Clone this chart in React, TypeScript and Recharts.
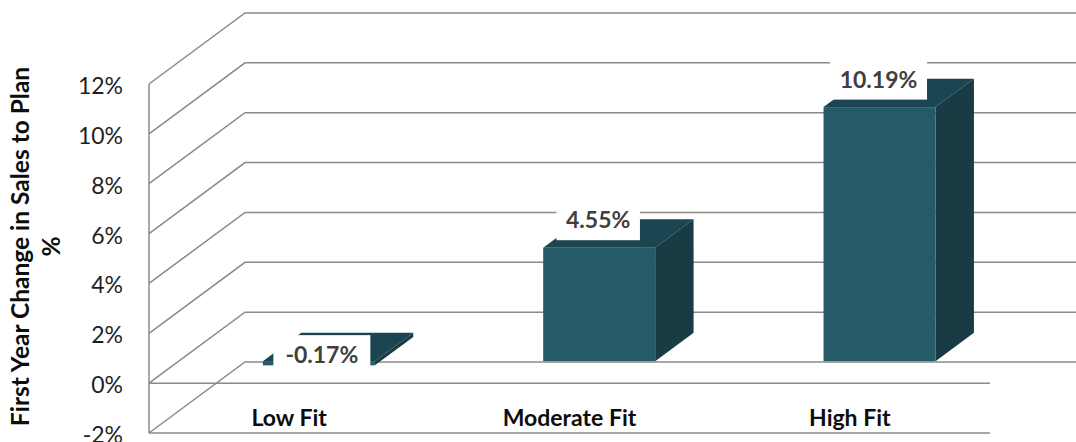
import React from 'react';
import { BarChart, Bar, XAxis, YAxis, CartesianGrid, ReferenceLine, LabelList } from 'recharts';

// ---- data ----
const categories = ['Low Fit', 'Moderate Fit', 'High Fit'];
const values = [-0.17, 4.55, 10.19];
const yTicks = [-2, 0, 2, 4, 6, 8, 10, 12];
const yTitleLines = ['First Year Change in Sales to Plan', '%'];

const data = categories.map((name, i) => ({ name, value: values[i] }));

// ---- styling ----
const W = 1076;
const H = 442;
const X_AXIS_H = 30;
const MARGIN = { top: 84, right: 86, bottom: 9 - X_AXIS_H, left: 0 };
const DEPTH_DX = 96;
const DEPTH_DY = -71;
const FRONT_F = 0.31;
const BACK_F = 0.71;
const GRID = '#8a8a8a';
const FRONT = '#255b69';
const TOP = '#1c4552';
const SIDE = '#183b44';
const FONT = 'Lato, "Open Sans", sans-serif';

const gridLine = (props: any) => {
  const { x1, y1, x2 } = props;
  const by = y1 + DEPTH_DY;
  return (
    <path
      key={`grid-${y1}`}
      d={`M${x1},${y1}L${x1 + DEPTH_DX},${by}L${x2 + DEPTH_DX},${by}`}
      fill="none"
      stroke={GRID}
      strokeWidth={1.5}
    />
  );
};

const Bar3D = (props: any) => {
  const { x, y, width, height } = props;
  if (x == null || y == null) return null;
  const top = Math.min(y, y + height);
  const bottom = Math.max(y, y + height);
  const fx = FRONT_F * DEPTH_DX;
  const fy = FRONT_F * DEPTH_DY;
  const dx = (BACK_F - FRONT_F) * DEPTH_DX;
  const dy = (BACK_F - FRONT_F) * DEPTH_DY;
  const x0 = x + fx;
  const x1 = x + width + fx;
  const t = top + fy;
  const b = bottom + fy;
  return (
    <g>
      <polygon points={`${x0},${t} ${x0 + dx},${t + dy} ${x1 + dx},${t + dy} ${x1},${t}`} fill={TOP} />
      <polygon points={`${x1},${t} ${x1 + dx},${t + dy} ${x1 + dx},${b + dy} ${x1},${b}`} fill={SIDE} />
      <rect x={x0} y={t} width={x1 - x0} height={b - t} fill={FRONT} />
    </g>
  );
};

const renderLabel = (props: any) => {
  const { x, y, width, height, value } = props;
  const v = Number(value);
  const top = Math.min(y, y + height);
  const cx = x + width / 2 + FRONT_F * DEPTH_DX + (v < 0 ? 3 : -1);
  const cy = top + FRONT_F * DEPTH_DY - (v >= 0 ? 27.5 : 6);
  const text = `${v.toFixed(2)}%`;
  const bw = text.length * 13.5 + 16;
  const bh = 40;
  return (
    <g>
      <rect x={cx - bw / 2} y={cy - bh / 2} width={bw} height={bh} fill="#ffffff" />
      <text
        x={cx}
        y={cy}
        dy={8}
        textAnchor="middle"
        fontFamily={FONT}
        fontWeight={700}
        fontSize={23}
        fill="#404040"
      >
        {text}
      </text>
    </g>
  );
};

const YTick = (props: any) => {
  const { x, y, payload } = props;
  return (
    <text x={x} y={y} dy={10} textAnchor="end" fontFamily={FONT} fontSize={23} fill="#1f1f1f">
      {`${payload.value}%`}
    </text>
  );
};

const XTick = (props: any) => {
  const { x, y, payload } = props;
  return (
    <text x={x} y={y} dy={-7} textAnchor="middle" fontFamily={FONT} fontWeight={700} fontSize={23} fill="#0d0d0d">
      {payload.value}
    </text>
  );
};

const YTitle = (props: any) => {
  const vb = props.viewBox || { y: MARGIN.top, height: 349 };
  const cy = vb.y + vb.height / 2 - 12;
  const xs = [29, 60];
  return (
    <g>
      {yTitleLines.map((line, i) => (
        <text
          key={i}
          transform={`translate(${xs[i]},${cy}) rotate(-90)`}
          textAnchor="middle"
          fontFamily={FONT}
          fontWeight={700}
          fontSize={24.5}
          fill="#0d0d0d"
        >
          {line}
        </text>
      ))}
    </g>
  );
};

export default function App() {
  return (
    <div style={{ position: 'absolute', left: 0, top: 0, width: W, height: H, background: '#ffffff', overflow: 'hidden' }}>
      <BarChart width={W} height={H} data={data} margin={MARGIN} barCategoryGap="30%" style={{ overflow: 'hidden' }}>
        <CartesianGrid vertical={false} horizontal={gridLine} />
        <XAxis
          dataKey="name"
          height={X_AXIS_H}
          tickLine={false}
          tickSize={0}
          tickMargin={0}
          axisLine={{ stroke: GRID, strokeWidth: 1.5 }}
          tick={<XTick />}
          interval={0}
        />
        <YAxis
          type="number"
          domain={[-2, 12]}
          ticks={yTicks}
          width={149}
          tickLine={false}
          tickSize={0}
          tickMargin={26}
          axisLine={{ stroke: GRID, strokeWidth: 1.5 }}
          tick={<YTick />}
          interval={0}
          label={<YTitle />}
        />
        <ReferenceLine y={0} stroke={GRID} strokeWidth={1.5} />
        <Bar dataKey="value" shape={<Bar3D />} isAnimationActive={false}>
          <LabelList dataKey="value" content={renderLabel} />
        </Bar>
      </BarChart>
    </div>
  );
}
